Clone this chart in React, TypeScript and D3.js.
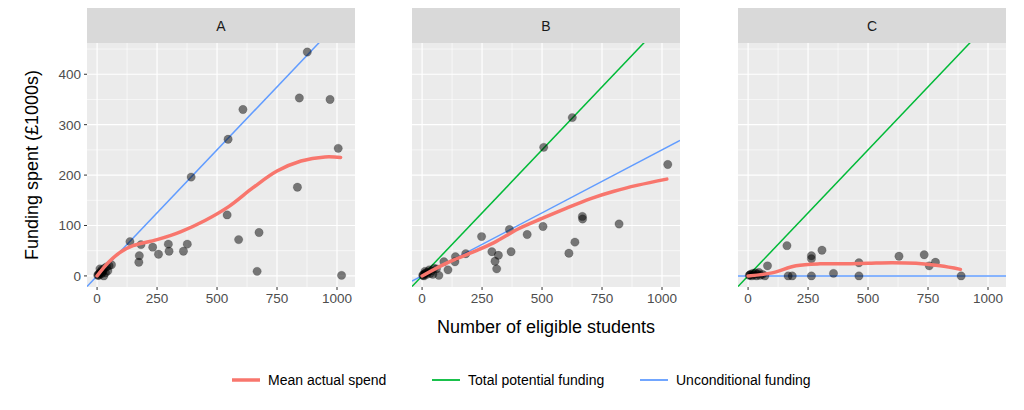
import * as d3 from "d3";

const panels = ["A", "B", "C"];

// points per panel: [students, funding]
const pointsA: [number, number][] = [
  [5, 3], [10, 5], [15, 8], [20, 12], [25, 10], [30, 15], [35, 6], [40, 18], [50, 20], [60, 22], [8, 1], [12, 14], [18, 4], [45, 10], [28, 0], [3, 1], [22, 7],
  [137, 68], [183, 62], [176, 40], [174, 27], [232, 57], [256, 43], [297, 63], [300, 49], [360, 49], [376, 63], [392, 196],
  [546, 271], [608, 330], [542, 121], [590, 72], [675, 86], [667, 9], [835, 176], [843, 353], [876, 444], [971, 350], [1005, 253], [1019, 1],
];
const pointsB: [number, number][] = [
  [5, 2], [10, 4], [15, 6], [20, 3], [25, 8], [30, 12], [35, 5], [40, 10], [50, 15], [8, 0], [12, 9], [45, 3], [60, 14], [3, 1],
  [70, 1], [91, 28], [108, 12], [137, 28], [139, 38], [182, 44], [248, 78], [291, 48], [304, 29], [311, 14], [318, 41], [364, 92], [371, 48],
  [438, 82], [504, 98], [507, 255], [626, 314], [612, 45], [637, 67], [669, 113], [668, 118], [821, 103], [1024, 221],
];
const pointsC: [number, number][] = [
  [5, 1], [10, 3], [15, 0], [20, 5], [25, 2], [30, 6], [35, 0], [40, 4], [50, 1], [60, 3], [8, 2], [70, 0], [45, 7],
  [81, 20], [162, 60], [167, 0], [184, 0], [264, 40], [264, 34], [308, 51], [264, 0], [356, 5], [462, 26], [462, 0],
  [629, 39], [734, 42], [755, 20], [781, 27], [888, 0],
];
const pointsByPanel = [pointsA, pointsB, pointsC];

// smoothed mean actual spend
const smoothA: [number, number][] = [[0, 0], [50, 28], [100, 48], [150, 60], [250, 72], [350, 88], [450, 110], [550, 138], [650, 175], [750, 208], [850, 228], [950, 236], [1015, 235]];
const smoothB: [number, number][] = [[0, 0], [100, 25], [200, 45], [300, 66], [400, 93], [500, 114], [600, 134], [700, 153], [800, 168], [900, 180], [1020, 192]];
const smoothC: [number, number][] = [[0, 0], [100, 6], [200, 20], [300, 24], [400, 24], [500, 25], [600, 26], [700, 25], [800, 20], [885, 13]];
const smoothByPanel = [smoothA, smoothB, smoothC];

// slopes of reference lines (£1000s per student)
const totalSlope = [null, 0.5, 0.5];
const uncondSlope = [0.5, 0.25, 0];

const xTicks = [0, 250, 500, 750, 1000];
const yTicks = [0, 100, 200, 300, 400];
const legendItems = [
  { label: "Mean actual spend", color: "#F8766D" },
  { label: "Total potential funding", color: "#00BA38" },
  { label: "Unconditional funding", color: "#619CFF" },
];

const panelLeft = [87, 412, 738];
const panelW = 268;
const top = 43;
const bottom = 287;
const font = "Liberation Sans, Arial, sans-serif";

export default function App() {
  const y = d3.scaleLinear().domain([-22, 462]).range([bottom, top]);
  return (
    <svg width={1024} height={410} style={{ position: "absolute", left: 0, top: 0, background: "white" }} fontFamily={font}>
      {panels.map((p, i) => {
        const x = d3.scaleLinear().domain([-42, 1075]).range([panelLeft[i], panelLeft[i] + panelW]);
        const line = d3.line<[number, number]>().x((d) => x(d[0])).y((d) => y(d[1])).curve(d3.curveCatmullRom);
        const minorX = xTicks.slice(0, -1).map((t) => t + 125);
        const minorY = yTicks.map((t) => t + 50).filter((t) => t < 462);
        const x0 = x.domain()[0], x1 = x.domain()[1];
        const ref = (s: number) => [[x0, s * x0], [x1, s * x1]] as [number, number][];
        const straight = d3.line<[number, number]>().x((d) => x(d[0])).y((d) => y(d[1]));
        return (
          <g key={p}>
            <defs>
              <clipPath id={`clip${i}`}>
                <rect x={panelLeft[i]} y={top} width={panelW} height={bottom - top} />
              </clipPath>
            </defs>
            <rect x={panelLeft[i]} y={8} width={panelW} height={top - 8} fill="#D9D9D9" />
            <text x={panelLeft[i] + panelW / 2} y={31} textAnchor="middle" fontSize={14} fill="#1A1A1A">{p}</text>
            <rect x={panelLeft[i]} y={top} width={panelW} height={bottom - top} fill="#EBEBEB" />
            {minorX.map((t) => <line key={"mx" + t} x1={x(t)} x2={x(t)} y1={top} y2={bottom} stroke="white" strokeWidth={0.6} />)}
            {minorY.map((t) => <line key={"my" + t} y1={y(t)} y2={y(t)} x1={panelLeft[i]} x2={panelLeft[i] + panelW} stroke="white" strokeWidth={0.6} />)}
            {xTicks.map((t) => <line key={"x" + t} x1={x(t)} x2={x(t)} y1={top} y2={bottom} stroke="white" strokeWidth={1.2} />)}
            {yTicks.map((t) => <line key={"y" + t} y1={y(t)} y2={y(t)} x1={panelLeft[i]} x2={panelLeft[i] + panelW} stroke="white" strokeWidth={1.2} />)}
            <g clipPath={`url(#clip${i})`}>
              {totalSlope[i] !== null && <path d={straight(ref(totalSlope[i] as number))!} stroke="#00BA38" strokeWidth={1.5} fill="none" />}
              <path d={straight(ref(uncondSlope[i]))!} stroke="#619CFF" strokeWidth={1.5} fill="none" />
              {pointsByPanel[i].map((d, k) => (
                <circle key={k} cx={x(d[0])} cy={y(d[1])} r={4.2} fill="black" fillOpacity={0.5} stroke="black" strokeOpacity={0.3} strokeWidth={0.5} />
              ))}
              <path d={line(smoothByPanel[i])!} stroke="#F8766D" strokeWidth={3.5} fill="none" strokeLinecap="round" />
            </g>
            {xTicks.map((t) => (
              <g key={"xt" + t}>
                <line x1={x(t)} x2={x(t)} y1={bottom} y2={bottom + 3} stroke="#333" />
                <text x={x(t)} y={bottom + 16} textAnchor="middle" fontSize={13.5} fill="#4D4D4D">{t}</text>
              </g>
            ))}
            {i === 0 && yTicks.map((t) => (
              <g key={"yt" + t}>
                <line x1={panelLeft[0] - 3} x2={panelLeft[0]} y1={y(t)} y2={y(t)} stroke="#333" />
                <text x={panelLeft[0] - 6} y={y(t) + 5} textAnchor="end" fontSize={13.5} fill="#4D4D4D">{t}</text>
              </g>
            ))}
          </g>
        );
      })}
      <text x={546} y={333} textAnchor="middle" fontSize={18} fill="black">Number of eligible students</text>
      <text transform={`translate(38,${(top + bottom) / 2}) rotate(-90)`} textAnchor="middle" fontSize={18} fill="black">Funding spent (£1000s)</text>
      {legendItems.map((it, k) => {
        const lx = [232, 432, 640][k];
        return (
          <g key={it.label}>
            <line x1={lx} x2={lx + 28} y1={380} y2={380} stroke={it.color} strokeWidth={it.color === "#F8766D" ? 3.5 : 1.8} />
            <text x={lx + 36} y={385} fontSize={14} fill="black">{it.label}</text>
          </g>
        );
      })}
    </svg>
  );
}
